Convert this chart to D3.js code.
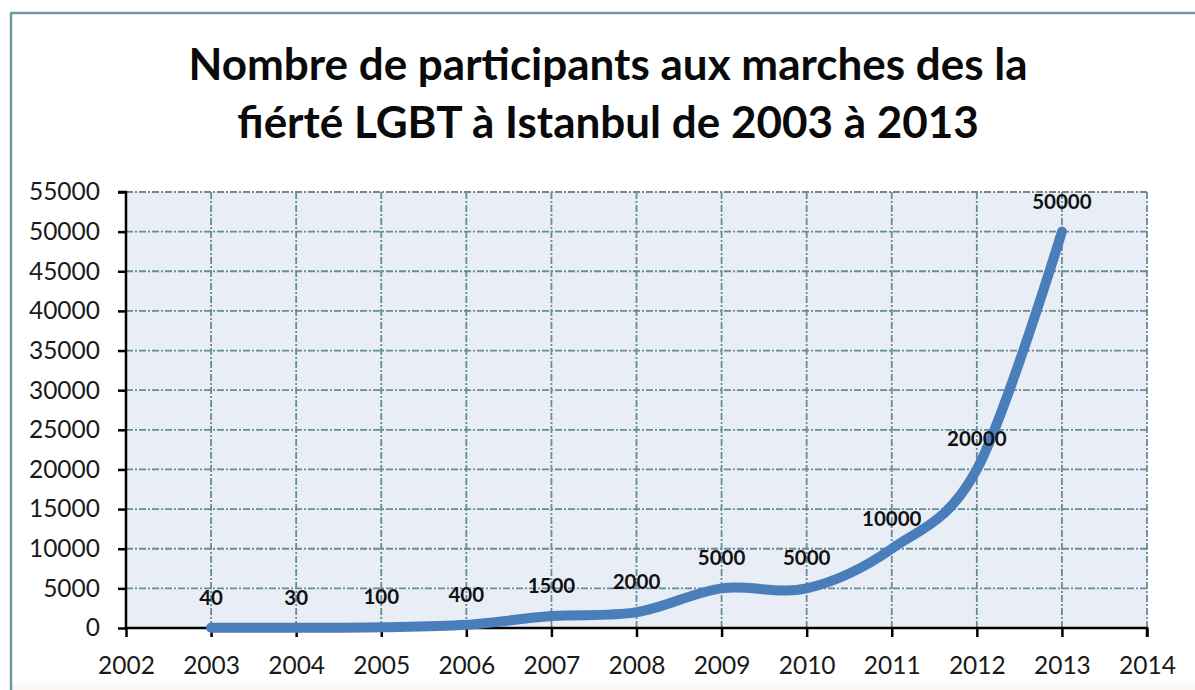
<!DOCTYPE html>
<html>
<head>
<meta charset="utf-8">
<script src="https://cdn.jsdelivr.net/npm/d3@7"></script>
<style>
  html, body { margin: 0; padding: 0; background: #ffffff; }
  svg { display: block; }
</style>
</head>
<body>
<svg id="chart" width="1195" height="690"></svg>
<script>
// ---- data ----
const titleLines = ["Nombre de participants aux marches des la", "fiérté LGBT à Istanbul de 2003 à 2013"];
const years = [2003, 2004, 2005, 2006, 2007, 2008, 2009, 2010, 2011, 2012, 2013];
const participants = [40, 30, 100, 400, 1500, 2000, 5000, 5000, 10000, 20000, 50000];
const xTicks = [2002, 2003, 2004, 2005, 2006, 2007, 2008, 2009, 2010, 2011, 2012, 2013, 2014];
const yTicks = [0, 5000, 10000, 15000, 20000, 25000, 30000, 35000, 40000, 45000, 50000, 55000];

// ---- layout ----
const W = 1195, H = 690;
const plot = { left: 126, right: 1147, top: 192, bottom: 628 };
const svg = d3.select("#chart");

const x = d3.scaleLinear().domain([2002, 2014]).range([plot.left, plot.right]);
const y = d3.scaleLinear().domain([0, 55000]).range([plot.bottom, plot.top]);

// background
svg.append("rect").attr("x", 0).attr("y", 0).attr("width", W).attr("height", H).attr("fill", "#ffffff");
svg.append("rect").attr("x", 12).attr("y", 683).attr("width", W - 12).attr("height", 7).attr("fill", "#fbf8f6");

// outer border (top + left)
svg.append("line").attr("x1", 10).attr("x2", W).attr("y1", 13).attr("y2", 13)
  .attr("stroke", "#6f98a2").attr("stroke-width", 2.5);
svg.append("line").attr("x1", 11).attr("x2", 11).attr("y1", 13).attr("y2", H)
  .attr("stroke", "#6f98a2").attr("stroke-width", 2.5);

// title
const fontTitle = "Lato, 'Open Sans', sans-serif";
const titleTargets = [908, 785];
const titleBase = [80, 138];
titleLines.forEach((t, i) => {
  const tx = svg.append("text")
    .attr("x", 608).attr("y", titleBase[i])
    .attr("text-anchor", "middle")
    .attr("font-family", fontTitle)
    .attr("font-weight", "bold")
    .attr("font-size", 40)
    .attr("fill", "#0a0a0a")
    .text(t);
  const len = tx.node().getComputedTextLength();
  const fs = 40 * titleTargets[i] / len;
  tx.attr("font-size", Math.min(fs, 44));
});

// plot background
svg.append("rect")
  .attr("x", plot.left).attr("y", plot.top)
  .attr("width", plot.right - plot.left).attr("height", plot.bottom - plot.top)
  .attr("fill", "#e9edf5");

// grid
const gridColor = "#668c98";
const dash = "7,2,2,2";
svg.append("g").selectAll("line.h").data(yTicks.filter(d => d > 0)).join("line")
  .attr("x1", plot.left).attr("x2", plot.right)
  .attr("y1", d => y(d)).attr("y2", d => y(d))
  .attr("stroke", gridColor).attr("stroke-width", 1.8).attr("stroke-dasharray", dash);
svg.append("g").selectAll("line.v").data(xTicks.filter(d => d > 2002)).join("line")
  .attr("x1", d => x(d)).attr("x2", d => x(d))
  .attr("y1", plot.top).attr("y2", plot.bottom)
  .attr("stroke", gridColor).attr("stroke-width", 1.8).attr("stroke-dasharray", dash);

// axes
const tickFont = "Lato, 'Open Sans', sans-serif";
const yAxis = svg.append("g").attr("transform", `translate(${plot.left},0)`)
  .call(d3.axisLeft(y).tickValues(yTicks).tickFormat(d3.format("d")).tickSize(8).tickPadding(18));
const xAxis = svg.append("g").attr("transform", `translate(0,${plot.bottom})`)
  .call(d3.axisBottom(x).tickValues(xTicks).tickFormat(d3.format("d")).tickSize(9).tickPadding(20));
[yAxis, xAxis].forEach(a => {
  a.select(".domain").attr("stroke", "#000").attr("stroke-width", 2.5);
  a.selectAll(".tick line").attr("stroke", "#000").attr("stroke-width", 2.5);
  a.selectAll(".tick text").attr("font-family", tickFont).attr("font-size", 24.5).attr("fill", "#1a1a1a");
});
yAxis.select(".domain").attr("d", `M-8,${plot.top}H0V${plot.bottom}`);
xAxis.select(".domain").attr("d", `M${plot.left},0H${plot.right}V9`);

// line
const pts = years.map((yr, i) => ({ yr, v: participants[i] }));
const line = d3.line().x(d => x(d.yr)).y(d => y(d.v)).curve(d3.curveCardinal.tension(0));
svg.append("path").datum(pts)
  .attr("d", line)
  .attr("fill", "none")
  .attr("stroke", "#4a7ebb")
  .attr("stroke-width", 10)
  .attr("stroke-linecap", "round")
  .attr("stroke-linejoin", "round");

// data labels
svg.append("g").selectAll("text").data(pts).join("text")
  .attr("x", d => x(d.yr))
  .attr("y", d => y(d.v) - 23)
  .attr("text-anchor", "middle")
  .attr("font-family", tickFont)
  .attr("font-weight", "bold")
  .attr("font-size", 20.5)
  .attr("fill", "#111")
  .text(d => d.v);
</script>
</body>
</html>
